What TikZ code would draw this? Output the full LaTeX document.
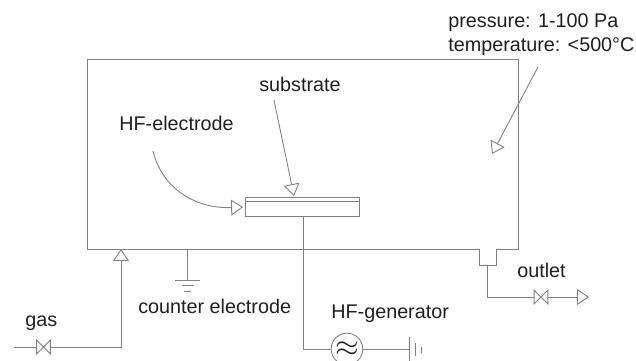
\documentclass[tikz,border=0pt]{standalone}
\usepackage{fontspec}
\setmainfont{Liberation Sans}
\usetikzlibrary{arrows.meta, calc}
\definecolor{linegray}{HTML}{808080}
\definecolor{labelgray}{HTML}{1F1F1F}

\begin{document}
\begin{tikzpicture}[x=0.02cm, y=-0.02cm,
	      every node/.style={font=\fontsize{11.25}{13}\selectfont, text=labelgray},
	      line/.style={draw=linegray, line width=0.5pt},
	      flow/.style={line, -{Triangle[open, length=6.8pt, width=9pt]}},
	      label/.style={anchor=base west, inner sep=0pt},
	      valve/.style={inner sep=0pt, minimum width=7.4pt, minimum height=7.4pt}]
	      \path[use as bounding box, clip] (0,0) rectangle (636,361);

	      % chamber with the outlet stub
	      \coordinate (nw) at (87,59);
	      \coordinate (ne) at (518,59);
	      \coordinate (se) at (518,249);
	      \coordinate (sw) at (87,249);
	      \coordinate (stubl) at (479,249);
	      \coordinate (stubr) at (496,249);
	      \coordinate (stubbl) at (479,265);
	      \coordinate (stubbr) at (496,265);
	      \draw[line] (sw) -- (nw) -- (ne) -- (se) -- (stubr) -- (stubbr) -- (stubbl) -- (stubl) -- cycle;

	      % electrode
	      \node[line, draw, inner sep=0pt, minimum width=65.2pt, minimum height=11.3pt] (electrode) at (302.5,207) {};
	      \draw[line] ($(electrode.north west)+(0,5)$) -- ($(electrode.north east)+(0,5)$);

	      % labels
	      \node[label] (pressure) at (448,28) {pressure: 1-100 Pa};
	      \node[label] (temperature) at (448,52) {temperature: <500°C};
	      \node[label] (substrate) at (259,92) {substrate};
	      \node[label] (hfelectrode) at (119,131) {HF-electrode};
	      \node[label] (counter) at (138,314) {counter electrode};
	      \node[label] (gas) at (25,327) {gas};
	      \node[label] (outlet) at (517,278) {outlet};
	      \node[label] (hfgenerator) at (331,319) {HF-generator};

	      % pointers
	      \coordinate (substratefrom) at (274,100);
	      \coordinate (substrateto) at (294,196);
	      \coordinate (hffrom) at (153,151);
	      \coordinate (pressurefrom) at (538,67);
	      \coordinate (pressureto) at (492,154);
	      \draw[flow] (substratefrom) -- (substrateto);
	      \draw[flow, shorten >=1pt] (hffrom) .. controls (162,188) and (195,209) .. (electrode.west);
	      \draw[flow] (pressurefrom) -- (pressureto);

	      % gas inlet
	      \coordinate (gasin) at (14,347);
	      \coordinate (gascorner) at (121,347);
	      \coordinate (gasport) at (121,249);
	      \node[valve] (gasvalve) at (43.5,347) {};
	      \draw[line] (gasin) -- (gasvalve.west);
	      \draw[flow] (gasvalve.east) -- (gascorner) -- (gasport);

	      % outlet
	      \coordinate (stubmid) at (487,265);
	      \coordinate (outcorner) at (487,297);
	      \coordinate (outend) at (589,297);
	      \node[valve] (outvalve) at (541,297) {};
	      \draw[line] (stubmid) -- (outcorner) -- (outvalve.west);
	      \draw[flow] (outvalve.east) -- (outend);

	      \foreach \v in {gasvalve, outvalve}
	      \draw[line] (\v.north west) -- (\v.south east) -- (\v.north east) -- (\v.south west) -- cycle;

	      % counter electrode earth
	      \coordinate (chamberearth) at (187,249);
	      \coordinate (earthtop) at (187,280);
	      \draw[line] (chamberearth) -- (earthtop);
	      \draw[line] (175,280) -- (200,280);
	      \draw[line] (182,285) -- (194,285);
	      \draw[line] (184,291) -- (191,291);

	      % generator
	      \coordinate (hfcorner) at (303,349);
	      \coordinate (hfstart) at (303,217);
	      \coordinate (groundbar) at (409,349);
	      \node[line, draw, circle, inner sep=0pt, minimum size=18pt, font=\fontsize{17}{17}\selectfont] (generator) at (347,349) {$\approx$};
	      \draw[line] (hfstart) -- (hfcorner) -- (generator.west);
	      \draw[line] (generator.east) -- (groundbar);
	      \draw[line] (409,337) -- (409,361);
	      \draw[line] (415,343) -- (415,356);
	      \draw[line] (421,347) -- (421,353);
\end{tikzpicture}
\end{document}
